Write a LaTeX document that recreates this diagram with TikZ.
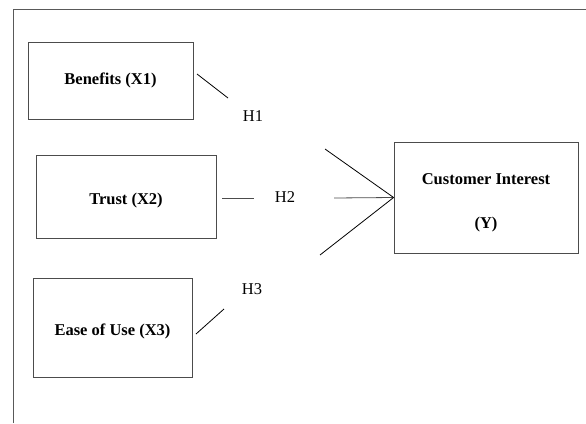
\documentclass[tikz,border=0pt]{standalone}
\usepackage{fontspec}
\setmainfont{Liberation Serif}
\usepackage{tikz}
\usetikzlibrary{positioning}

\newcommand{\lowered}[2]{\raisebox{-#1}[\height][\depth]{#2}}

\begin{document}
\begin{tikzpicture}[
    x = 1pt, y = -1pt, % pixel like units, y going down
    semithick, % line style
    line width = 0.8pt
    ]

    \tikzset{varbox/.style={
    draw = black!70,
    fill = white,
    font = \fontsize{16.5}{20}\selectfont\bfseries,
    align = center,
    inner sep = 0pt
    }}
    \tikzset{hyp/.style={font=\fontsize{16.5}{20}\selectfont, inner sep=0pt}}

    \useasboundingbox (0,0) rectangle (586,423);
    % frame
    \coordinate (fl) at (13,423);
    \coordinate (fc) at (13,9);
    \coordinate (fr) at (586,9);
    \draw[black!65] (fl) -- (fc) -- (fr);

    \node[varbox, minimum width=165pt, minimum height=77pt] (x1) at (110.5,80.5) {Benefits (X1)};
    \node[varbox, minimum width=180pt, minimum height=83pt] (x2) at (126,196.5) {\lowered{4pt}{Trust (X2)}};
    \node[varbox, minimum width=159pt, minimum height=99pt] (x3) at (112.5,327.5) {\lowered{4pt}{Ease of Use (X3)}};
    \node[varbox, minimum width=184pt, minimum height=111pt] (y) at (486,197.5)
        {\lowered{5pt}{\begin{tabular}{c}Customer Interest\\[24pt](Y)\end{tabular}}};

    \node[hyp] (h1) at (253,116) {H1};
    \node[hyp] (h2) at (285,197) {H2};
    \node[hyp] (h3) at (252,289) {H3};

    % pieces of the lines
    \coordinate (a1) at (197,74);
    \coordinate (b1) at (228,98);
    \coordinate (a2) at (222,198);
    \coordinate (b2) at (254,198);
    \coordinate (c2) at (334,198);
    \coordinate (u1) at (325,149);
    \coordinate (l3) at (320,255);
    \coordinate (a3) at (196,334);
    \coordinate (b3) at (224,309);
    \coordinate (tip) at (y.west);

    \draw (a1) -- (b1);
    \draw[black!70] (a2) -- (b2);
    \draw[black!70] (c2) -- (tip);
    \draw (u1) -- (tip);
    \draw (l3) -- (tip);
    \draw (a3) -- (b3);
\end{tikzpicture}
\end{document}
